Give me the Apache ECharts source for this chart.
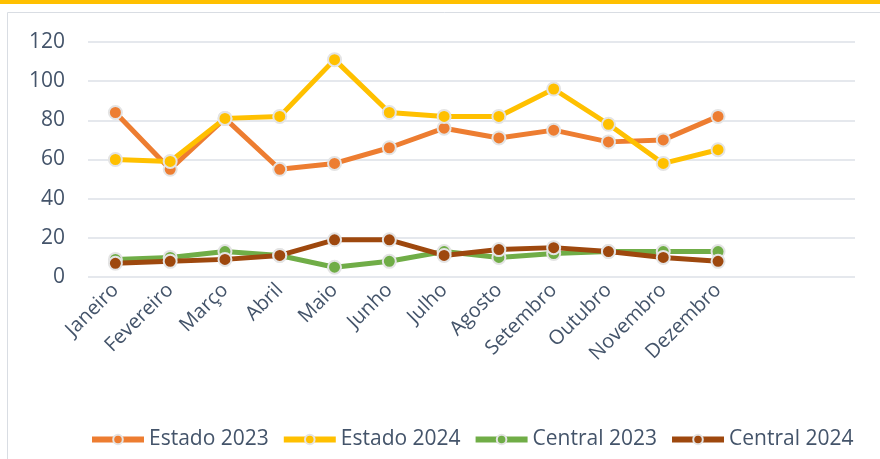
<!DOCTYPE html>
<html>
<head>
<meta charset="utf-8">
<script src="https://cdn.jsdelivr.net/npm/echarts@6/dist/echarts.min.js"></script>
<style>
  html, body { margin: 0; padding: 0; background: #fff; }
  #chart { width: 880px; height: 459px; }
</style>
</head>
<body>
<div id="chart"></div>
<script>
// meses (two blank slots on the right, as in the original plot area)
const months = ['Janeiro', 'Fevereiro', 'Março', 'Abril', 'Maio', 'Junho', 'Julho',
  'Agosto', 'Setembro', 'Outubro', 'Novembro', 'Dezembro', '', ' ']
const estado2023 = [84, 55, 81, 55, 58, 66, 76, 71, 75, 69, 70, 82]
const estado2024 = [60, 59, 81, 82, 111, 84, 82, 82, 96, 78, 58, 65]
const central2023 = [9, 10, 13, 11, 5, 8, 13, 10, 12, 13, 13, 13]
const central2024 = [7, 8, 9, 11, 19, 19, 11, 14, 15, 13, 10, 8]

const textColor = '#44546a'
const font = 'Open Sans'

const myChart = echarts.init(document.getElementById('chart'))

const makeSeries = (name, data, color) => ({
  name: name,
  type: 'line',
  data: data,
  symbol: 'circle',
  symbolSize: 13,
  lineStyle: { width: 5, color: color },
  itemStyle: { color: color, borderColor: '#e4e4e4', borderWidth: 2 }
})

myChart.setOption({
  animation: false,
  graphic: [
    { type: 'rect', shape: { x: 0, y: 0, width: 880, height: 4 }, style: { fill: '#ffc000' } },
    { type: 'rect', shape: { x: 7.5, y: 12.5, width: 900, height: 470 },
      style: { fill: 'none', stroke: '#d9dde3', lineWidth: 1 } }
  ],
  grid: { left: 88, right: 25, top: 42, bottom: 182 },
  legend: {
    bottom: 4,
    left: 84,
    itemWidth: 52,
    itemHeight: 12,
    itemGap: 12,
    lineStyle: { width: 6 },
    textStyle: { color: textColor, fontSize: 21, fontFamily: font },
    data: ['Estado 2023', 'Estado 2024', 'Central 2023', 'Central 2024']
  },
  xAxis: {
    type: 'category',
    data: months,
    boundaryGap: true,
    axisLine: { show: false },
    axisTick: { show: false },
    axisLabel: { rotate: 45, color: textColor, fontSize: 20, fontFamily: font, margin: 10 }
  },
  yAxis: {
    type: 'value',
    min: 0,
    max: 120,
    interval: 20,
    axisLine: { show: false },
    axisTick: { show: false },
    axisLabel: { color: textColor, fontSize: 21, fontFamily: font, margin: 23 },
    splitLine: { lineStyle: { color: '#dde1e7', width: 1.5 } }
  },
  series: [
    makeSeries('Estado 2023', estado2023, '#ed7d31'),
    makeSeries('Estado 2024', estado2024, '#ffc000'),
    makeSeries('Central 2023', central2023, '#70ad47'),
    makeSeries('Central 2024', central2024, '#9e480e')
  ]
})
</script>
</body>
</html>
